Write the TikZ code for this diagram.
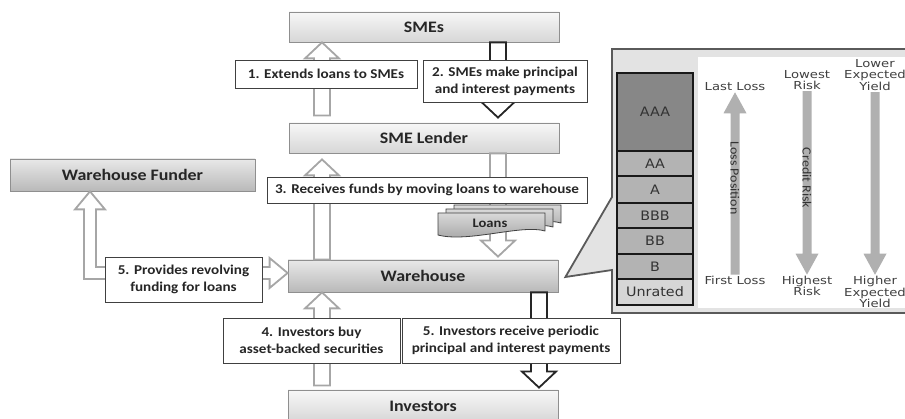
\documentclass[tikz,border=0pt]{standalone}
\usepackage{fontspec}
\usetikzlibrary{calc}
\newfontfamily\carl[FakeStretch=1.12]{Carlito}
\newfontfamily\verd[FakeStretch=1.2]{DejaVu Sans}
\newfontfamily\verdb[FakeStretch=1.1]{DejaVu Sans}
\definecolor{arrowgray}{HTML}{A6A6A6}
\definecolor{arrowdark}{HTML}{262626}
\definecolor{boxedge}{HTML}{8F8F8F}
\definecolor{panelgray}{HTML}{E3E3E3}
\definecolor{paneledge}{HTML}{5A5A5A}
\definecolor{ratingtop}{HTML}{878787}
\definecolor{ratingmid}{HTML}{B3B3B3}
\definecolor{ratinglow}{HTML}{D6D6D6}
\definecolor{shaft}{HTML}{B0B0B0}
\begin{document}
\begin{tikzpicture}[x=1pt,y=-1pt,
    box/.style={draw=boxedge,line width=0.8pt,minimum width=270pt,minimum height=30pt,
      font=\carl\bfseries\fontsize{16}{18}\selectfont,text=black!85},
    light/.style={top color=gray!6,bottom color=gray!32},
    dark/.style={top color=gray!18,bottom color=gray!55},
    lbl/.style={draw=black!75,fill=white,line width=0.8pt,align=center,inner sep=0pt,
      font=\carl\bfseries\fontsize{13.5}{17}\selectfont,text=black!85},
    block/.style n args={3}{to path={let \p1=(\tikztostart),\p2=(\tikztotarget),
      \n1={sign(\y2-\y1)*#3} in
      ({\x1-#1pt},\y1) -- ({\x1-#1pt},{\y2-(\n1)*1pt}) -- ({\x1-#2pt},{\y2-(\n1)*1pt})
      -- (\x1,\y2) -- ({\x1+#2pt},{\y2-(\n1)*1pt}) -- ({\x1+#1pt},{\y2-(\n1)*1pt})
      -- ({\x1+#1pt},\y1) -- cycle}},
    garrow/.style={block={8}{17}{16},draw=arrowgray,line width=1.8pt,fill=white},
    darrow/.style={block={8}{17}{16},draw=arrowdark,line width=1.8pt,fill=white},
    parrow/.style={block={4.5}{11.5}{21},draw=none,fill=shaft},
    tranche/.style={draw=black!90,line width=1.3pt,minimum width=76pt,inner sep=0pt,
      font=\verdb\fontsize{13}{15}\selectfont,text=black!80},
    plabel/.style={font=\verd\fontsize{11}{11.8}\selectfont,text=black!75,align=center,inner sep=1pt},
    rlabel/.style={rotate=-90,font=\carl\fontsize{12.5}{14}\selectfont,text=black!80}]
  \useasboundingbox (0,0) rectangle (905,419);
  \node[box,light] (smes) at (424,27) {SMEs};
  \node[box,light] (lender) at (424,138) {SME Lender};
  \node[box,dark,minimum height=32pt] (wh) at (423,276) {Warehouse};
  \node[box,light,minimum height=32pt] (inv) at (423,406) {Investors};
  \node[box,dark,minimum width=245pt,minimum height=32pt] (wf) at (132.5,175) {Warehouse Funder};
  \coordinate (cL) at (322,0);
  \coordinate (cM) at (498,0);
  \coordinate (cR) at (539,0);
  \coordinate (elbow) at (90,273);
  \draw[garrow] ($(lender.north -| cL)+(0,-7)$) to (smes.south -| cL);
  \draw[darrow] (smes.south -| cM) to ($(lender.north -| cM)+(0,-5)$);
  \draw[garrow] (wh.north -| cL) to ($(lender.south -| cL)+(0,6)$);
  \draw[garrow] (lender.south -| cM) to ($(wh.north -| cM)+(0,-3)$);
  \draw[garrow] ($(inv.north -| cL)+(0,-4)$) to (wh.south -| cL);
  \draw[darrow] (wh.south -| cR) to ($(inv.north -| cR)+(0,-2)$);
  \draw[draw=arrowgray,line width=1.8pt,fill=white]
    let \p1=(wf.south -| elbow),\p2=(wh.west |- elbow),\p3=(elbow) in
    (\x1,\y1) -- ({\x1+15pt},{\y1-18pt}) -- ({\x1+6pt},{\y1-18pt}) -- ({\x1+6pt},{\y3+6pt})
    -- ({\x2-18pt},{\y3+6pt}) -- ({\x2-18pt},{\y3+15pt}) -- (\x2,\y2)
    -- ({\x2-18pt},{\y3-15pt}) -- ({\x2-18pt},{\y3-6pt}) -- ({\x1-6pt},{\y3-6pt})
    -- ({\x1-6pt},{\y1-18pt}) -- ({\x1-15pt},{\y1-18pt}) -- cycle;
  \foreach \d in {16,8,0}
    \draw[draw=black!75,line width=0.8pt,top color=gray!30,bottom color=gray!75]
      (438+\d,213-\d/2) -- (545+\d,213-\d/2) -- (545+\d,231-\d/2)
      .. controls (522+\d,224-\d/2) and (468+\d,243-\d/2) .. (438+\d,235-\d/2) -- cycle;
  \node[font=\carl\bfseries\fontsize{13}{15}\selectfont,text=black!85] (loans) at (490,223) {Loans};
  \node[lbl,minimum width=182pt,minimum height=28pt] (l1) at (326,74) {1. Extends loans to SMEs};
  \node[lbl,minimum width=164pt,minimum height=42pt] (l2) at (505,81) {2. SMEs make principal\\and interest payments};
  \node[lbl,minimum width=320pt,minimum height=26pt] (l3) at (427,190) {3. Receives funds by moving loans to warehouse};
  \node[lbl,minimum width=157pt,minimum height=45pt] (l5a) at (183.5,279.5) {5. Provides revolving\\funding for loans};
  \node[lbl,minimum width=177pt,minimum height=45pt] (l4) at (311.5,340.5) {4. Investors buy\\asset-backed securities};
  \node[lbl,minimum width=218pt,minimum height=45pt] (l5b) at (511,340.5) {5. Investors receive periodic\\principal and interest payments};
  \draw[draw=paneledge,line width=1.8pt,fill=panelgray] (612,49) -- (920,49) -- (920,313)
    -- (612,313) -- (612,270) -- ($(wh.east)+(7,1)$) -- (612,197) -- cycle;
  \fill[white] (698,57) rectangle (920,308);
  \foreach \r/\c/\h/\f in {AAA/112/78/ratingtop,AA/163.5/25/ratingmid,A/189.5/27/ratingmid,
      BBB/215.5/25/ratingmid,BB/241/26/ratingmid,B/266.5/25/ratingmid,Unrated/292/26/ratinglow}
    \node[tranche,fill=\f,minimum height=\h pt] (t\r) at (655,\c) {\r};
  \node[plabel] (lastloss) at (735,87) {Last Loss};
  \node[plabel] (firstloss) at (735,280) {First Loss};
  \node[plabel] (lowrisk) at (807,80) {Lowest\\Risk};
  \node[plabel] (highrisk) at (807,286) {Highest\\Risk};
  \node[plabel] (lowyield) at (875,75) {Lower\\Expected\\Yield};
  \node[plabel] (highyield) at (875,292) {Higher\\Expected\\Yield};
  \draw[parrow] (firstloss.north) to (lastloss.south);
  \draw[parrow] (lowrisk.south) to (highrisk.north);
  \draw[parrow] (lowyield.south) to (highyield.north);
  \node[rlabel] (losspos) at (735,178) {Loss Position};
  \node[rlabel] (credit) at (807,178) {Credit Risk};
\end{tikzpicture}
\end{document}
